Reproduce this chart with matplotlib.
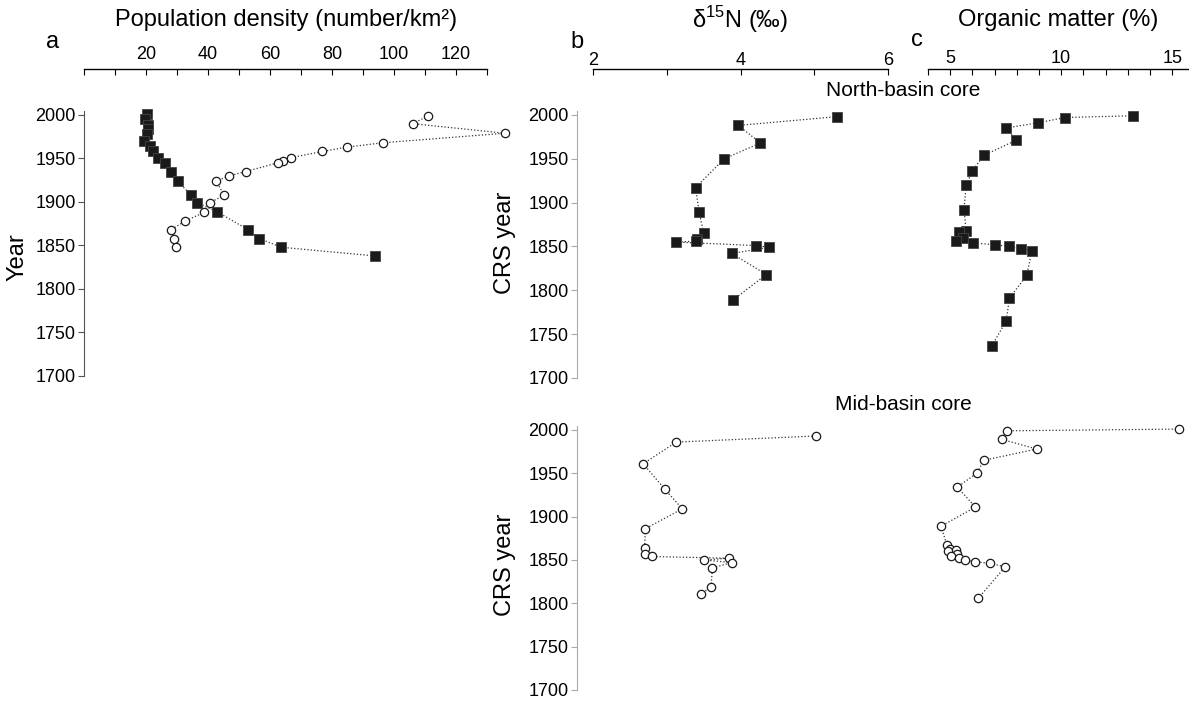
import matplotlib.pyplot as plt
from matplotlib.ticker import MultipleLocator, FixedLocator

plt.rcParams['font.family'] = ['Liberation Sans', 'DejaVu Sans']
plt.rcParams['mathtext.fontset'] = 'custom'
plt.rcParams['mathtext.rm'] = 'Liberation Sans'

W, H = 1189, 701

# panel a: population density (number/km2)
pop_sq = [20.2, 19.7, 20.7, 20.5, 20.2, 19.5, 21.3, 22.4, 24.0, 26.1, 28.0, 30.2,
          34.5, 36.6, 42.8, 53.0, 56.6, 63.5, 93.9]
pop_sq_year = [2001, 1995, 1988, 1984, 1978, 1970, 1964, 1958, 1950, 1945, 1934, 1924,
               1908, 1899, 1889, 1868, 1858, 1848, 1838]
pop_ci = [111.1, 106.0, 135.8, 96.3, 84.7, 76.9, 66.8, 64.3, 62.5, 52.2, 46.8, 42.6,
          45.2, 40.6, 38.7, 32.6, 28.0, 29.0, 29.7]
pop_ci_year = [1999, 1990, 1979, 1968, 1963, 1958, 1951, 1947, 1945, 1935, 1930, 1924,
               1908, 1899, 1888, 1878, 1868, 1858, 1848]

# panel b: d15N (permil)
n15_north = [5.31, 3.97, 4.27, 3.78, 3.39, 3.44, 3.50, 3.41, 3.39, 3.13, 4.21, 4.39,
             3.88, 4.35, 3.90]
n15_north_year = [1998, 1988, 1968, 1950, 1917, 1889, 1865, 1858, 1856, 1855, 1851,
                  1849, 1842, 1818, 1789]
n15_mid = [5.02, 3.13, 2.68, 2.97, 3.21, 2.71, 2.70, 2.70, 2.80, 3.84, 3.51, 3.88,
           3.62, 3.60, 3.47]
n15_mid_year = [1993, 1986, 1961, 1932, 1909, 1886, 1864, 1857, 1854, 1852, 1850,
                1847, 1841, 1819, 1811]

# panel c: organic matter (%)
om_north = [13.23, 10.18, 8.95, 7.52, 7.97, 6.52, 5.99, 5.72, 5.62, 5.72, 5.38, 5.57,
            5.24, 6.02, 7.00, 7.64, 8.17, 8.68, 8.45, 7.67, 7.52, 6.89]
om_north_year = [1999, 1997, 1991, 1985, 1971, 1954, 1936, 1920, 1892, 1868, 1866,
                 1860, 1856, 1854, 1852, 1850, 1847, 1845, 1817, 1791, 1765, 1737]
om_mid = [15.33, 7.57, 7.34, 8.90, 6.52, 6.20, 5.32, 6.14, 4.59, 4.85, 4.97, 5.27,
          4.90, 5.32, 5.02, 5.38, 5.68, 6.14, 6.80, 7.48, 6.27]
om_mid_year = [2001, 1999, 1989, 1978, 1965, 1950, 1934, 1911, 1889, 1867, 1863, 1862,
               1860, 1857, 1854, 1852, 1850, 1848, 1846, 1842, 1806]


def px_axes(fig, x0, x1, ytop, ybot):
    return fig.add_axes([x0 / W, 1 - ybot / H, (x1 - x0) / W, (ybot - ytop) / H])


def fig_text(fig, x, y, s, **kw):
    fig.text(x / W, 1 - y / H, s, ha='center', va='center', **kw)


def draw(ax, x, y, filled):
    if filled:
        ax.plot(x, y, ls=':', lw=0.9, color='#333333', marker='s', ms=6.8,
                mfc='#1a1a1a', mec='#444444', mew=0.6, clip_on=False)
    else:
        ax.plot(x, y, ls=':', lw=0.9, color='#333333', marker='o', ms=6,
                mfc='white', mec='#1a1a1a', mew=0.9, clip_on=False)


def style(ax, left=False, left_off=0, top=False, top_off=30, spine_col='#555555'):
    for s in ['right', 'bottom']:
        ax.spines[s].set_visible(False)
    ax.set_ylim(1700, 2005)
    ax.yaxis.set_major_locator(MultipleLocator(50))
    if left:
        ax.spines['left'].set_position(('outward', left_off))
        ax.spines['left'].set_color(spine_col)
        ax.spines['left'].set_bounds(1700, 2005)
        ax.tick_params(axis='y', direction='out', length=4, width=0.8,
                       color=spine_col, labelsize=13, pad=2)
    else:
        ax.spines['left'].set_visible(False)
        ax.tick_params(axis='y', left=False, labelleft=False)
    if top:
        ax.xaxis.set_ticks_position('top')
        ax.spines['top'].set_position(('outward', top_off))
        ax.spines['top'].set_linewidth(1.0)
        ax.tick_params(axis='x', which='both', direction='in', length=4, width=0.8,
                       labelsize=13)
    else:
        ax.spines['top'].set_visible(False)
        ax.tick_params(axis='x', which='both', top=False, bottom=False,
                       labeltop=False, labelbottom=False)


fig = plt.figure(figsize=(W / 100, H / 100), dpi=100)

# panel a
ax_a = px_axes(fig, 84, 487, 110.6, 376)
ax_a.set_xlim(0, 130)
draw(ax_a, pop_sq, pop_sq_year, True)
draw(ax_a, pop_ci, pop_ci_year, False)
style(ax_a, left=True, left_off=0, top=True, top_off=30, spine_col='#555555')
ax_a.xaxis.set_major_locator(FixedLocator([20, 40, 60, 80, 100, 120]))
ax_a.xaxis.set_minor_locator(FixedLocator([0, 10, 30, 50, 70, 90, 110, 130]))
ax_a.tick_params(axis='x', pad=4)

# panel b north
ax_bn = px_axes(fig, 593, 888, 110.5, 378)
ax_bn.set_xlim(2, 6)
draw(ax_bn, n15_north, n15_north_year, True)
style(ax_bn, left=True, left_off=11.5, top=True, top_off=30, spine_col='#aaaaaa')
ax_bn.xaxis.set_major_locator(FixedLocator([2, 4, 6]))
ax_bn.xaxis.set_minor_locator(FixedLocator([3, 5]))
ax_bn.tick_params(axis='x', pad=0)

# panel c north
ax_cn = px_axes(fig, 928, 1189, 110.5, 378)
ax_cn.set_xlim(4, 15.76)
draw(ax_cn, om_north, om_north_year, True)
style(ax_cn, left=False, top=True, top_off=30)
ax_cn.xaxis.set_major_locator(FixedLocator([5, 10, 15]))
ax_cn.xaxis.set_minor_locator(FixedLocator([4, 6, 7, 8, 9, 11, 12, 13, 14]))
ax_cn.tick_params(axis='x', pad=1)

# panel b mid
ax_bm = px_axes(fig, 593, 888, 425.6, 690)
ax_bm.set_xlim(2, 6)
draw(ax_bm, n15_mid, n15_mid_year, False)
style(ax_bm, left=True, left_off=11.5, top=False, spine_col='#aaaaaa')

# panel c mid
ax_cm = px_axes(fig, 928, 1189, 425.6, 690)
ax_cm.set_xlim(4, 15.76)
draw(ax_cm, om_mid, om_mid_year, False)
style(ax_cm, left=False, top=False)

for ax in [ax_a, ax_bn, ax_cn, ax_bm, ax_cm]:
    ax.patch.set_visible(False)

fig_text(fig, 286, 20, 'Population density (number/km²)', fontsize=17)
fig_text(fig, 740, 20, 'δ$^{15}$N (‰)', fontsize=17)
fig_text(fig, 1058, 20, 'Organic matter (%)', fontsize=17)
fig_text(fig, 53, 42, 'a', fontsize=17)
fig_text(fig, 577, 42, 'b', fontsize=17)
fig_text(fig, 917, 40, 'c', fontsize=17)
fig_text(fig, 903, 90, 'North-basin core', fontsize=15)
fig_text(fig, 903, 405, 'Mid-basin core', fontsize=15)
fig_text(fig, 18, 257, 'Year', fontsize=17, rotation=90)
fig_text(fig, 505, 243, 'CRS year', fontsize=17, rotation=90)
fig_text(fig, 505, 565, 'CRS year', fontsize=17, rotation=90)

fig.savefig('out.png', dpi=100)
